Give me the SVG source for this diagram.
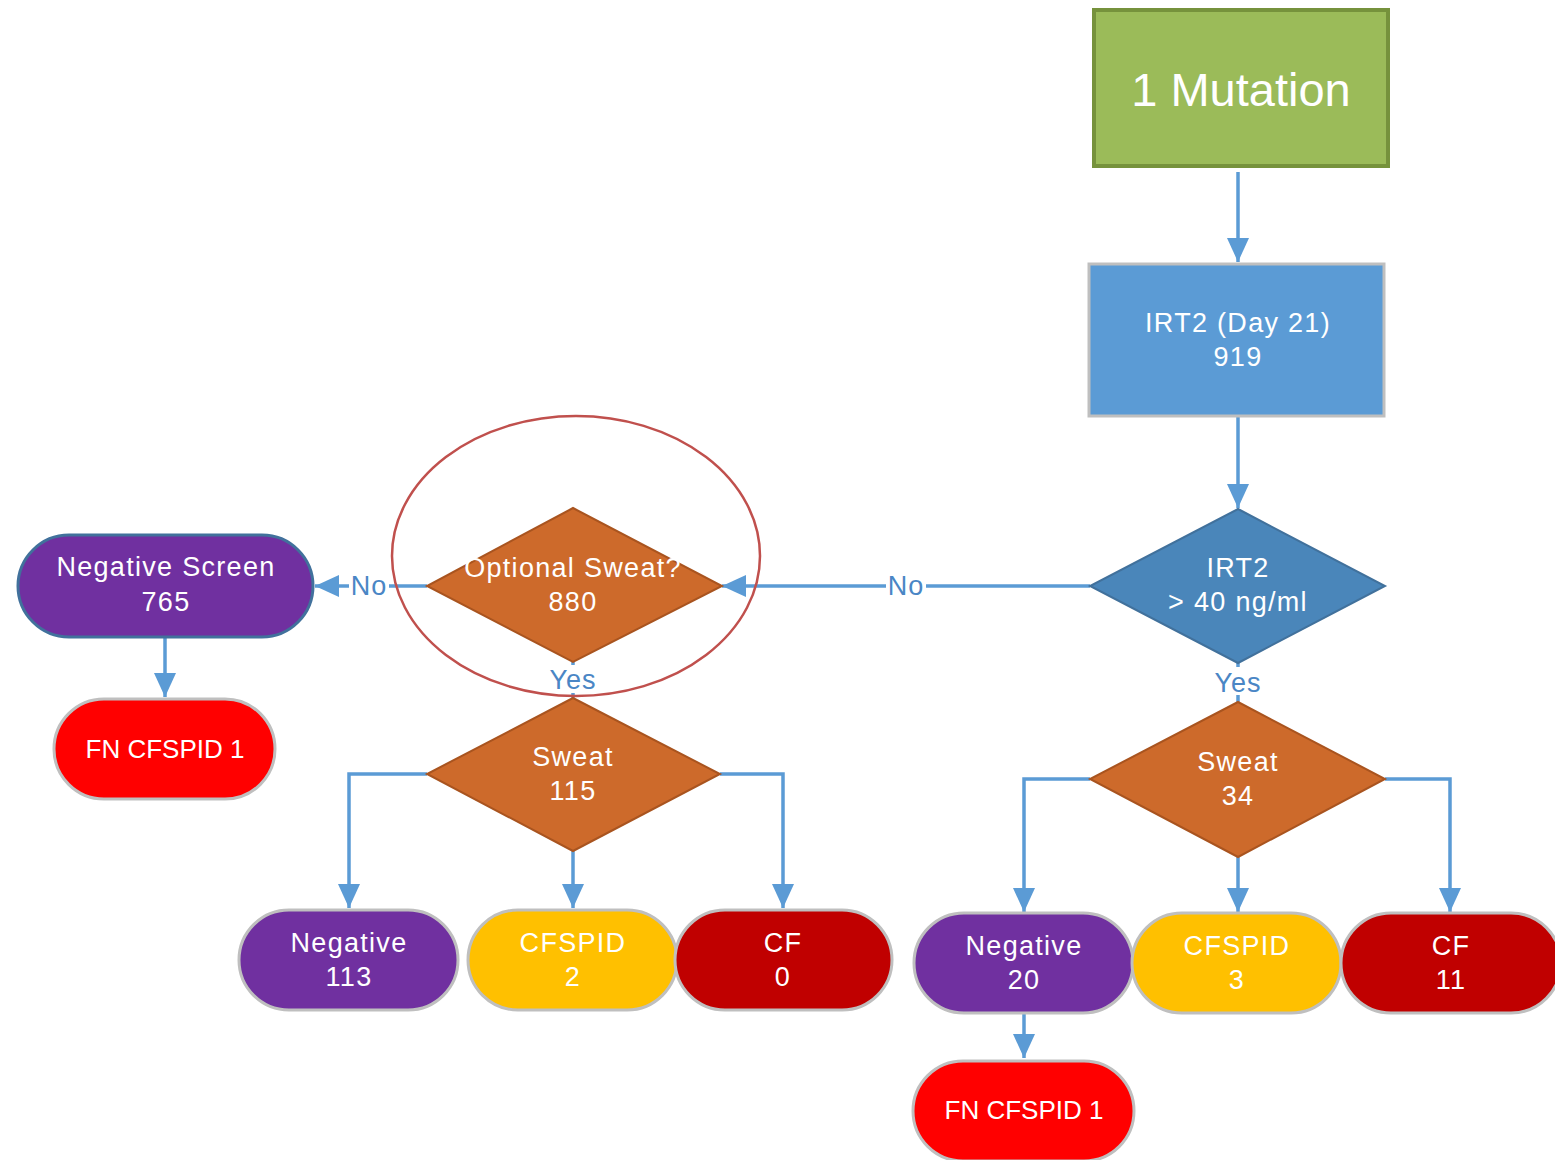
<svg xmlns="http://www.w3.org/2000/svg" width="1555" height="1160" viewBox="0 0 1555 1160">
<defs>
<marker id="ah" markerUnits="userSpaceOnUse" markerWidth="24" markerHeight="22" refX="24" refY="11" orient="auto">
<path d="M0,0 L24,11 L0,22 Z" fill="#5b9bd5"/>
</marker>
<style>
.t{font-family:"Liberation Sans",Arial,sans-serif;fill:#ffffff;text-anchor:middle;font-size:27px;letter-spacing:1.3px}
.fn{letter-spacing:0;font-size:26px}
.lbl{font-family:"Liberation Sans",Arial,sans-serif;fill:#4a86c5;text-anchor:middle;font-size:27px;letter-spacing:1px}
.c{fill:none;stroke:#5b9bd5;stroke-width:3.5}
.pill{stroke:#bfbfbf;stroke-width:3}
.purple{fill:#7030a0}
.yellow{fill:#ffc000}
.dred{fill:#c00000}
.red{fill:#ff0000}
.orange{fill:#cd6a2b;stroke:#a9541f;stroke-width:2}
</style>
</defs>
<rect width="1555" height="1160" fill="#ffffff"/>

<g id="connectors">
<path class="c" d="M1238,172 V262" marker-end="url(#ah)"/>
<path class="c" d="M1238,417 V508" marker-end="url(#ah)"/>
<path class="c" d="M1090,586 H722" marker-end="url(#ah)"/>
<path class="c" d="M1238,663 V702"/>
<path class="c" d="M1090,779 H1024 V912" marker-end="url(#ah)"/>
<path class="c" d="M1238,857 V912" marker-end="url(#ah)"/>
<path class="c" d="M1385,779 H1450 V912" marker-end="url(#ah)"/>
<path class="c" d="M1024,1013 V1058" marker-end="url(#ah)"/>
<path class="c" d="M427,586 H315" marker-end="url(#ah)"/>
<path class="c" d="M573,662 V698"/>
<path class="c" d="M427,774 H349 V908" marker-end="url(#ah)"/>
<path class="c" d="M573,851 V908" marker-end="url(#ah)"/>
<path class="c" d="M720,774 H783 V908" marker-end="url(#ah)"/>
<path class="c" d="M165,637 V697" marker-end="url(#ah)"/>
<rect x="886" y="572" width="40" height="28" fill="#ffffff"/>
<text class="lbl" x="906" y="595">No</text>
<rect x="349" y="572" width="40" height="28" fill="#ffffff"/>
<text class="lbl" x="369" y="595">No</text>
<rect x="1212" y="667" width="52" height="28" fill="#ffffff"/>
<text class="lbl" x="1238" y="692">Yes</text>
<rect x="547" y="665" width="52" height="28" fill="#ffffff"/>
<text class="lbl" x="573" y="689">Yes</text>
</g>

<g id="mutation">
<rect x="1094" y="10" width="294" height="156" fill="#9bbb59" stroke="#76923c" stroke-width="4"/>
<text class="t" x="1241" y="106" style="font-size:47px;letter-spacing:0">1 Mutation</text>
</g>

<g id="irt2-day21">
<rect x="1089" y="264" width="295" height="152" fill="#5b9bd5" stroke="#bfbfbf" stroke-width="3"/>
<text class="t" x="1238" y="332">IRT2 (Day 21)</text>
<text class="t" x="1238" y="366">919</text>
</g>

<g id="irt2-decision">
<polygon points="1238,509 1385,586 1238,663 1090,586" fill="#4a86ba" stroke="#41719c" stroke-width="2"/>
<text class="t" x="1238" y="577">IRT2</text>
<text class="t" x="1238" y="611">&gt; 40 ng/ml</text>
</g>

<g id="optional-sweat">
<polygon points="573,508 722,586 573,662 427,586" class="orange"/>
<text class="t" x="573" y="577">Optional Sweat?</text>
<text class="t" x="573" y="611">880</text>
</g>

<g id="highlight-ellipse">
<ellipse cx="576" cy="556" rx="184" ry="140" fill="none" stroke="#c0504d" stroke-width="2.5"/>
</g>

<g id="negative-screen">
<rect x="18" y="535" width="295" height="102" rx="51" class="purple" stroke="#41719c" stroke-width="3"/>
<text class="t" x="166" y="576">Negative Screen</text>
<text class="t" x="166" y="611">765</text>
</g>

<g id="fn-cfspid-left">
<rect x="54" y="699" width="221" height="100" rx="50" class="red pill"/>
<text class="t fn" x="165" y="758">FN CFSPID 1</text>
</g>

<g id="sweat-115">
<polygon points="573,698 720,774 573,851 427,774" class="orange"/>
<text class="t" x="573" y="766">Sweat</text>
<text class="t" x="573" y="800">115</text>
</g>

<g id="negative-113">
<rect x="239" y="910" width="219" height="100" rx="50" class="purple pill"/>
<text class="t" x="349" y="952">Negative</text>
<text class="t" x="349" y="986">113</text>
</g>

<g id="cfspid-2">
<rect x="468" y="910" width="209" height="100" rx="50" class="yellow pill"/>
<text class="t" x="573" y="952">CFSPID</text>
<text class="t" x="573" y="986">2</text>
</g>

<g id="cf-0">
<rect x="675" y="910" width="217" height="100" rx="50" class="dred pill"/>
<text class="t" x="783" y="952">CF</text>
<text class="t" x="783" y="986">0</text>
</g>

<g id="sweat-34">
<polygon points="1238,702 1385,779 1238,857 1090,779" class="orange"/>
<text class="t" x="1238" y="771">Sweat</text>
<text class="t" x="1238" y="805">34</text>
</g>

<g id="negative-20">
<rect x="914" y="913" width="219" height="100" rx="50" class="purple pill"/>
<text class="t" x="1024" y="955">Negative</text>
<text class="t" x="1024" y="989">20</text>
</g>

<g id="cfspid-3">
<rect x="1132" y="913" width="209" height="100" rx="50" class="yellow pill"/>
<text class="t" x="1237" y="955">CFSPID</text>
<text class="t" x="1237" y="989">3</text>
</g>

<g id="cf-11">
<rect x="1341" y="913" width="220" height="100" rx="50" class="dred pill"/>
<text class="t" x="1451" y="955">CF</text>
<text class="t" x="1451" y="989">11</text>
</g>

<g id="fn-cfspid-right">
<rect x="913" y="1061" width="221" height="100" rx="50" class="red pill"/>
<text class="t fn" x="1024" y="1119">FN CFSPID 1</text>
</g>
</svg>
